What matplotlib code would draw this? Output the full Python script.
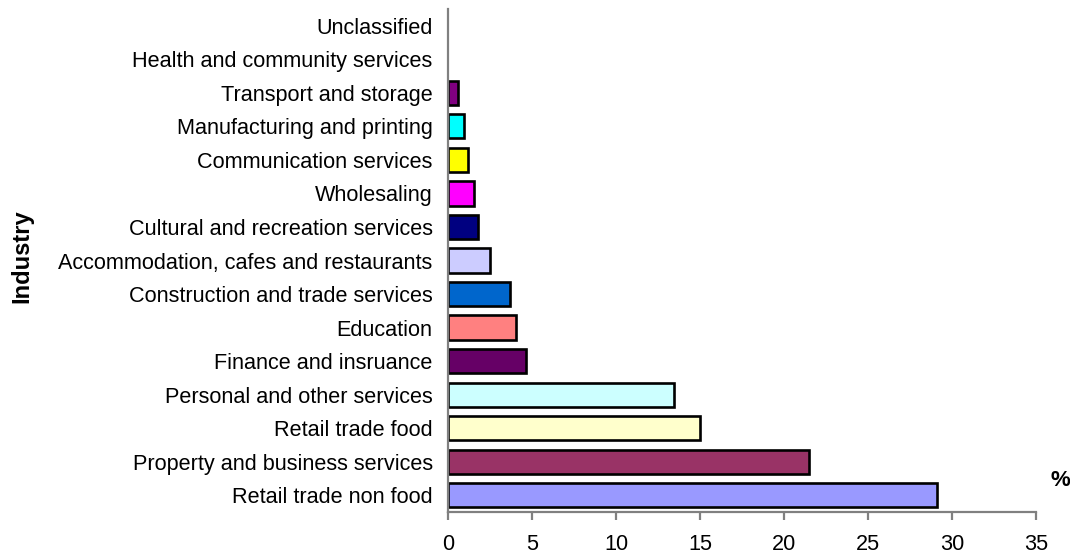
import matplotlib
matplotlib.use('Agg')
import matplotlib.pyplot as plt

plt.rcParams['font.family'] = ['Liberation Sans', 'DejaVu Sans']

# 行业分布（%），从下往上
industries = ['Retail trade non food', 'Property and business services', 'Retail trade food',
              'Personal and other services', 'Finance and insruance', 'Education',
              'Construction and trade services', 'Accommodation, cafes and restaurants',
              'Cultural and recreation services', 'Wholesaling', 'Communication services',
              'Manufacturing and printing', 'Transport and storage',
              'Health and community services', 'Unclassified']
shares = [29.1, 21.5, 15.0, 13.45, 4.65, 4.05, 3.7, 2.5, 1.8, 1.55, 1.2, 0.95, 0.6, 0, 0]
colors = ['#9999FF', '#993366', '#FFFFCC', '#CCFFFF', '#660066', '#FF8080', '#0066CC',
          '#CCCCFF', '#000080', '#FF00FF', '#FFFF00', '#00FFFF', '#800080', '#FFFFFF', '#FFFFFF']
xticks = [0, 5, 10, 15, 20, 25, 30, 35]

fig = plt.figure(figsize=(10.7, 5.54), dpi=100)
ax = fig.add_axes([448 / 1070, 1 - 512 / 554, (1036 - 448) / 1070, (512 - 9) / 554])

pos = list(range(len(industries)))
for p, v, c in zip(pos, shares, colors):
    if v > 0:
        ax.barh(p, v, height=0.72, color=c, edgecolor='black', linewidth=1.9)

ax.set_xlim(0, 35)
ax.set_ylim(-0.5, len(industries) - 0.5)
ax.set_xticks(xticks)
ax.set_xticklabels([str(t) for t in xticks], fontsize=15.6)
ax.set_yticks(pos)
ax.set_yticklabels(industries, fontsize=15.6)

for s in ['top', 'right']:
    ax.spines[s].set_visible(False)
for s in ['left', 'bottom']:
    ax.spines[s].set_color('#808080')
    ax.spines[s].set_linewidth(1.6)
ax.tick_params(axis='x', direction='out', length=6, width=1.6, color='#808080', pad=10)
ax.tick_params(axis='y', length=0, pad=11)

fig.text(22 / 1070, 1 - 256 / 554, 'Industry', rotation=90, fontsize=17,
         fontweight='bold', ha='center', va='center')
fig.text(1060 / 1070, 1 - 481 / 554, '%', fontsize=16, fontweight='bold',
         ha='center', va='center')

plt.savefig('out.png', dpi=100)
